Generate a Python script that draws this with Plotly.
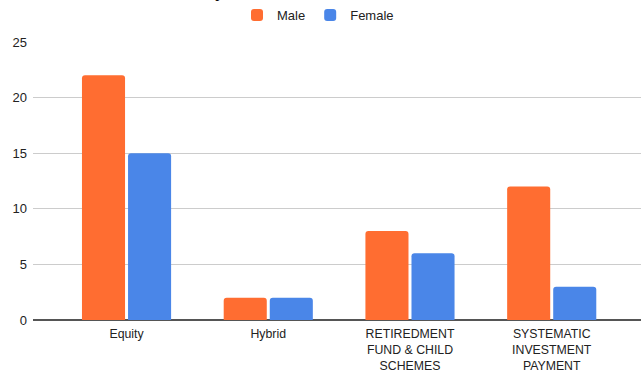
import plotly.graph_objects as go

categories = ["Equity", "Hybrid", "RETIREDMENT<br>FUND & CHILD<br>SCHEMES", "SYSTEMATIC<br>INVESTMENT<br>PAYMENT"]
male = [22, 2, 8, 12]
female = [15, 2, 6, 3]
y_ticks = [0, 5, 10, 15, 20, 25]

W, H = 641, 372
ML, MR, MT, MB = 33, 0, 42, 52
pw = W - ML - MR
ph = H - MT - MB

fig = go.Figure()
fig.add_trace(go.Bar(name="Male", x=categories, y=male, marker_color="#ff6d31", marker_line_width=0))
fig.add_trace(go.Bar(name="Female", x=categories, y=female, marker_color="#4a86e8", marker_line_width=0))

fig.update_layout(
    width=W, height=H,
    margin=dict(l=ML, r=MR, t=MT, b=MB, pad=0, autoexpand=False),
    paper_bgcolor="white", plot_bgcolor="white",
    font=dict(family="Liberation Sans, Arial, sans-serif", size=13, color="#222222"),
    barmode="group", bargap=0.35, bargroupgap=0.065, barcornerradius=3,
    showlegend=True,
    legend=dict(orientation="h", x=(318 - ML) / pw, xanchor="center",
                y=1 + (MT - 15) / ph, yanchor="middle",
                font=dict(size=13, color="#222222"), itemwidth=30,
                bgcolor="rgba(0,0,0,0)"),
    xaxis=dict(range=[-0.66, 3.63], showgrid=False, zeroline=False, showline=False,
               ticks="", ticklabelstandoff=5, automargin=False,
               tickfont=dict(size=12.3, color="#222222"), fixedrange=True),
    yaxis=dict(range=[0, 25], tickvals=y_ticks, showgrid=True, gridcolor="#cccccc",
               gridwidth=1, zeroline=True, zerolinecolor="#555555", zerolinewidth=1.5,
               showline=False, ticks="", automargin=False,
               ticklabelstandoff=5, tickfont=dict(size=13, color="#222222")),
    annotations=[dict(text="between the variables and the dependent variable is shown as",
                      xref="paper", yref="paper", x=(5 - ML) / pw, xanchor="left",
                      y=1 + (MT - 3) / ph, yanchor="bottom", showarrow=False,
                      font=dict(family="Liberation Serif, Times New Roman, serif",
                                size=16, color="#000000"))],
)

fig.write_html("out.html")
